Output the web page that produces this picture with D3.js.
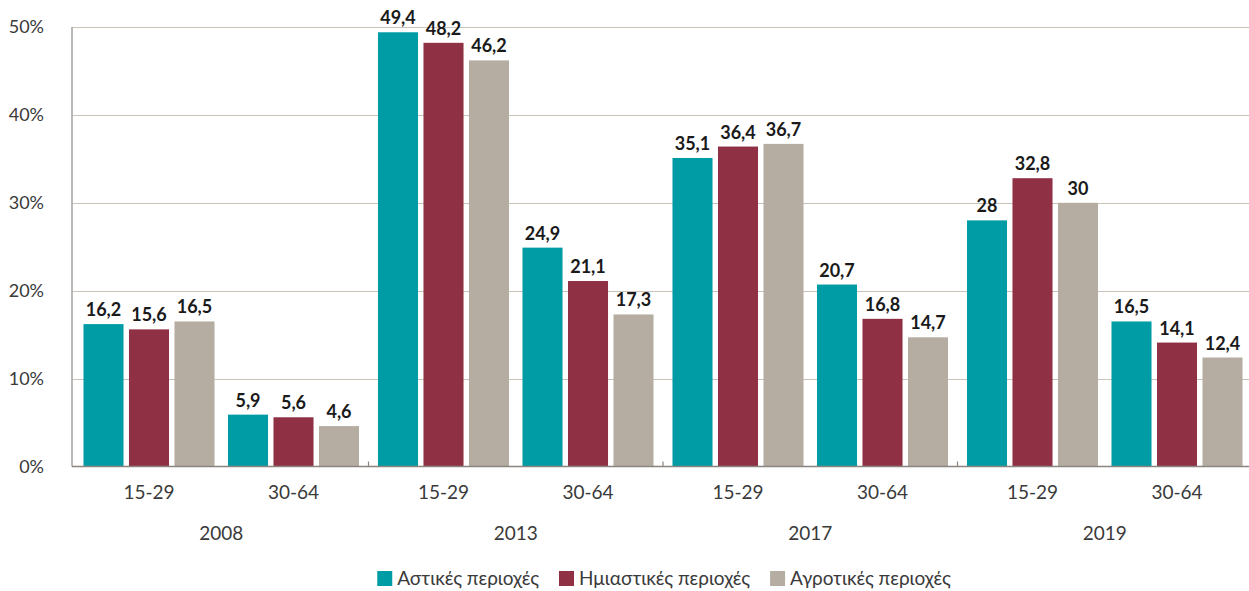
<!DOCTYPE html>
<html>
<head>
<meta charset="utf-8">
<script src="https://cdn.jsdelivr.net/npm/d3@7"></script>
<style>
  body { margin: 0; background: #fff; }
  svg { display: block; font-family: Lato, "Noto Sans", sans-serif; }
</style>
</head>
<body>
<svg width="1249" height="591"></svg>
<script>
const years = ["2008", "2013", "2017", "2019"];
const ages = ["15-29", "30-64"];
const seriesNames = ["Αστικές περιοχές", "Ημιαστικές περιοχές", "Αγροτικές περιοχές"];
const colors = ["#009ca6", "#8f3045", "#b5ada2"];

// values in order: 2008 15-29, 2008 30-64, 2013 15-29, ...
const urban = [16.2, 5.9, 49.4, 24.9, 35.1, 20.7, 28, 16.5];
const semiUrban = [15.6, 5.6, 48.2, 21.1, 36.4, 16.8, 32.8, 14.1];
const rural = [16.5, 4.6, 46.2, 17.3, 36.7, 14.7, 30, 12.4];
const yTicks = [0, 10, 20, 30, 40, 50];

const svg = d3.select("svg");
const width = +svg.attr("width");
const margin = { top: 27, left: 74, right: -3, bottom: 124 };
const plotBottom = 466.5;

const series = [urban, semiUrban, rural];
const data = [];
years.forEach((yr, i) => {
  ages.forEach((age, j) => {
    const idx = i * ages.length + j;
    data.push({ year: yr, age: age, values: series.map((s, k) => ({ key: seriesNames[k], value: s[idx], color: colors[k] })) });
  });
});

const x0 = d3.scaleBand().domain(years).range([margin.left, width - margin.right]);
const x1 = d3.scaleBand().domain(ages).range([0, x0.bandwidth()]).paddingOuter(0.019);
const x2 = d3.scaleBand().domain(seriesNames).range([0, x1.bandwidth()]).paddingInner(0.12).paddingOuter(0.148);
const y = d3.scaleLinear().domain([0, 50]).range([plotBottom, margin.top]);

// gridlines
svg.append("g")
  .selectAll("line")
  .data(yTicks.filter(d => d > 0))
  .join("line")
  .attr("x1", 72).attr("x2", width)
  .attr("y1", d => Math.round(y(d)) + 0.5).attr("y2", d => Math.round(y(d)) + 0.5)
  .attr("stroke", "#c9c3bb").attr("stroke-width", 1);

// y labels
svg.append("g")
  .selectAll("text")
  .data(yTicks)
  .join("text")
  .attr("x", 44)
  .attr("y", d => y(d) + 6)
  .attr("text-anchor", "end")
  .attr("font-size", 18)
  .attr("fill", "#3a3a3a")
  .text(d => d + "%");

// bars
const groups = svg.append("g")
  .selectAll("g")
  .data(data)
  .join("g")
  .attr("transform", d => `translate(${x0(d.year) + x1(d.age)},0)`);

groups.selectAll("rect")
  .data(d => d.values)
  .join("rect")
  .attr("x", d => x2(d.key))
  .attr("y", d => y(d.value))
  .attr("width", x2.bandwidth())
  .attr("height", d => plotBottom - y(d.value))
  .attr("fill", d => d.color);

groups.selectAll("text")
  .data(d => d.values)
  .join("text")
  .attr("x", d => x2(d.key) + x2.bandwidth() / 2)
  .attr("y", d => y(d.value) - 8)
  .attr("text-anchor", "middle")
  .attr("font-size", 18)
  .attr("font-weight", "bold")
  .attr("fill", "#1a1a1a")
  .text(d => String(d.value).replace(".", ","));

// axes lines
svg.append("line")
  .attr("x1", 72).attr("x2", 72)
  .attr("y1", margin.top).attr("y2", plotBottom)
  .attr("stroke", "#a8a29c").attr("stroke-width", 1.5);
svg.append("line")
  .attr("x1", 72).attr("x2", width)
  .attr("y1", plotBottom).attr("y2", plotBottom)
  .attr("stroke", "#8a8580").attr("stroke-width", 1.5);

// year separators
svg.append("g")
  .selectAll("line")
  .data(years.slice(1))
  .join("line")
  .attr("x1", d => x0(d)).attr("x2", d => x0(d))
  .attr("y1", plotBottom - 5).attr("y2", plotBottom)
  .attr("stroke", "#8a8580").attr("stroke-width", 1.2);

// age labels
svg.append("g")
  .selectAll("text")
  .data(data)
  .join("text")
  .attr("x", d => x0(d.year) + x1(d.age) + x1.bandwidth() / 2)
  .attr("y", 499)
  .attr("text-anchor", "middle")
  .attr("font-size", 19)
  .attr("fill", "#3a3a3a")
  .text(d => d.age);

// year labels
svg.append("g")
  .selectAll("text")
  .data(years)
  .join("text")
  .attr("x", d => x0(d) + x0.bandwidth() / 2)
  .attr("y", 540)
  .attr("text-anchor", "middle")
  .attr("font-size", 19)
  .attr("fill", "#3a3a3a")
  .text(d => d);

// legend
const legend = svg.append("g");
const items = legend.selectAll("g")
  .data(seriesNames)
  .join("g");
items.append("rect")
  .attr("width", 15).attr("height", 15)
  .attr("y", 571)
  .attr("fill", (d, i) => colors[i]);
items.append("text")
  .attr("x", 20)
  .attr("y", 585)
  .attr("font-size", 19)
  .attr("fill", "#3a3a3a")
  .text(d => d);
let offset = 0;
const widths = [];
items.each(function () {
  widths.push(this.querySelector("text").getComputedTextLength() + 20);
});
const totalW = d3.sum(widths) + 20 * (widths.length - 1);
offset = 664 - totalW / 2;
items.attr("transform", (d, i) => {
  const t = `translate(${offset},0)`;
  offset += widths[i] + 20;
  return t;
});
</script>
</body>
</html>
